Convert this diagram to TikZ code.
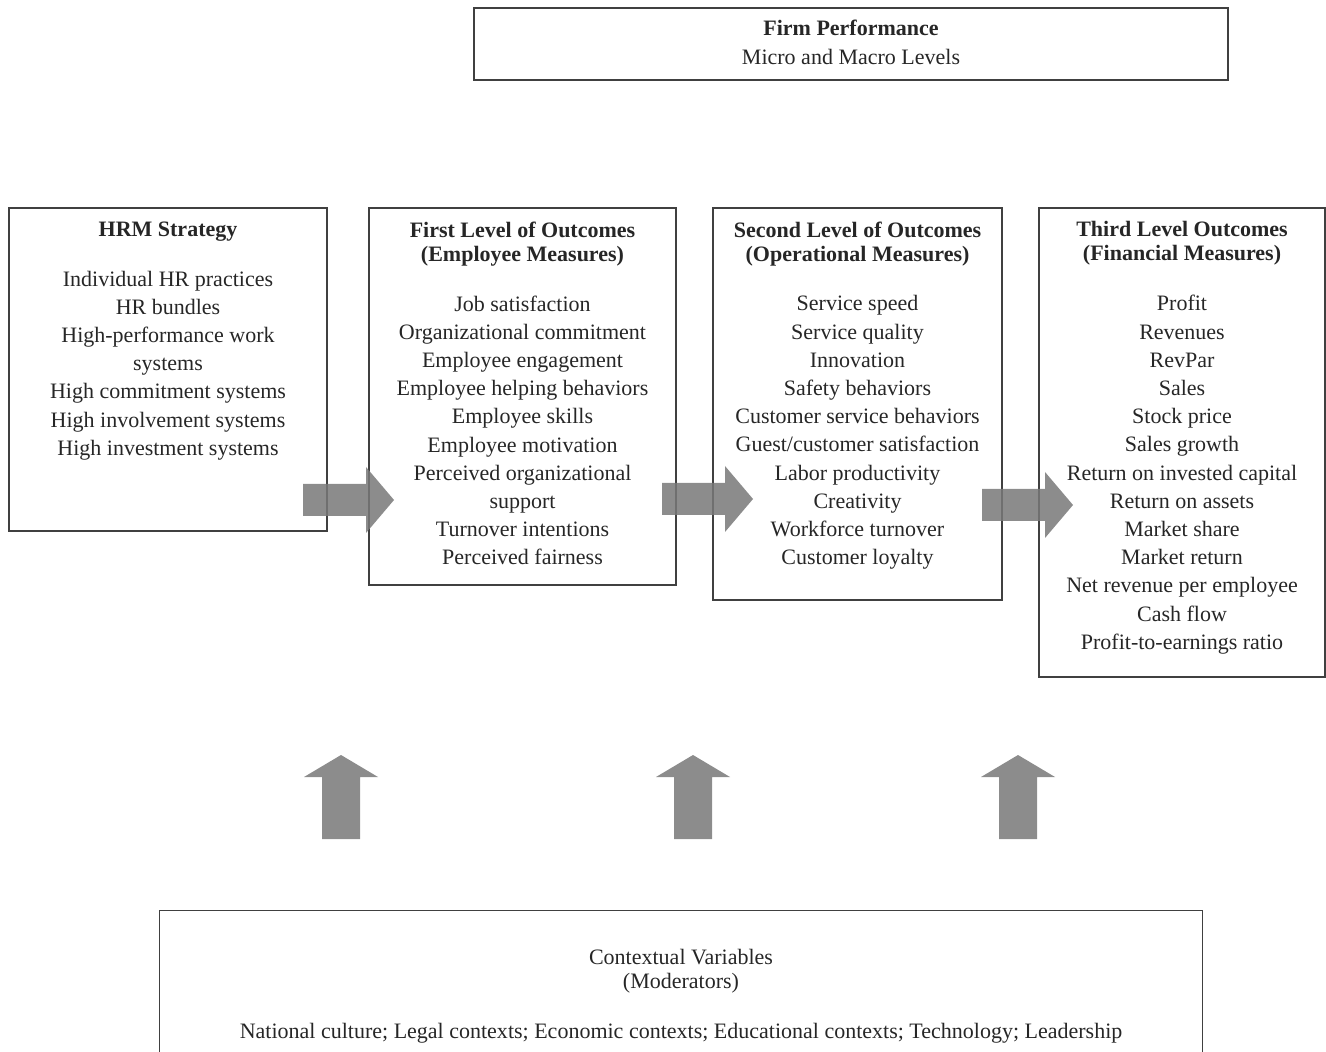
\documentclass[tikz,border=0pt]{standalone}
\usepackage{fontspec}
\setmainfont{Liberation Serif}
\usetikzlibrary{positioning, fit}

\begin{document}
\begin{tikzpicture}[x=0.5pt, y=-0.5pt,
  box/.style={rectangle, draw=black!75, line width=0.8pt, inner sep=0pt},
  boxline/.style={draw=black!75, line width=0.8pt},
  head/.style={align=center, inner sep=0pt, text=black!85,
               font=\fontsize{11}{12}\selectfont\bfseries},
  items/.style={align=center, inner sep=0pt, text=black!85,
                font=\fontsize{11}{14.1}\selectfont},
  blockarrow/.style={fill=black!53, fill opacity=0.85, draw=none}
]
\useasboundingbox (0,0) rectangle (1326,1052);

% Top: firm performance
\node[box, fit={(474,8) (1228,80)}] (firm) {};
\node[items, font=\fontsize{11}{14.5}\selectfont, below=6pt of firm.north] (firmT)
  {\textbf{Firm Performance}\\Micro and Macro Levels};

% Column 1: HRM strategy
\node[box, fit={(9,208) (327,531)}] (hrm) {};
\node[head, below=7pt of hrm.north] (hrmT) {HRM Strategy};
\node[items, below=14.5pt of hrmT] (hrmL) {Individual HR practices\\HR bundles\\
  High-performance work\\systems\\High commitment systems\\
  High involvement systems\\High investment systems};

% Column 2: first level
\node[box, fit={(369,208) (676,585)}] (emp) {};
\node[head, below=7pt of emp.north] (empT) {First Level of Outcomes\\(Employee Measures)};
\node[items, below=14.5pt of empT] (empL) {Job satisfaction\\Organizational commitment\\
  Employee engagement\\Employee helping behaviors\\Employee skills\\
  Employee motivation\\Perceived organizational\\support\\
  Turnover intentions\\Perceived fairness};

% Column 3: second level
\node[box, fit={(713,208) (1002,600)}] (ops) {};
\node[head, below=7pt of ops.north] (opsT) {Second Level of Outcomes\\(Operational Measures)};
\node[items, below=14.5pt of opsT] (opsL) {Service speed\\Service quality\\Innovation\\
  Safety behaviors\\Customer service behaviors\\Guest/customer satisfaction\\
  Labor productivity\\Creativity\\Workforce turnover\\Customer loyalty};

% Column 4: third level
\node[box, fit={(1039,208) (1325,677)}] (fin) {};
\node[head, below=7pt of fin.north] (finT) {Third Level Outcomes\\(Financial Measures)};
\node[items, below=14.5pt of finT] (finL) {Profit\\Revenues\\RevPar\\Sales\\Stock price\\
  Sales growth\\Return on invested capital\\Return on assets\\Market share\\
  Market return\\Net revenue per employee\\Cash flow\\Profit-to-earnings ratio};

% Bottom: contextual variables (open at the bottom)
\node[inner sep=0pt, fit={(160,911) (1202,1052)}] (ctx) {};
\draw[boxline] (ctx.south west) |- (ctx.north east) -- (ctx.south east);
\node[items, font=\fontsize{11}{12}\selectfont, below=19pt of ctx.north] (ctxT)
  {Contextual Variables\\(Moderators)};
\node[items, below=14.5pt of ctxT] (ctxL)
  {National culture; Legal contexts; Economic contexts; Educational contexts; Technology; Leadership};

% Block arrows between the columns
\foreach \x/\y in {303/500, 662/499, 982/505}
  \fill[blockarrow] (\x,\y) ++(0,-16) -- ++(63,0) -- ++(0,-17) -- ++(28,33)
    -- ++(-28,33) -- ++(0,-17) -- ++(-63,0) -- cycle;

% Block arrows up from the moderators
\foreach \x in {341, 693, 1018}
  \fill[blockarrow] (\x,839) ++(-19,0) -- ++(0,-62) -- ++(-18,0) -- ++(37,-22)
    -- ++(37,22) -- ++(-18,0) -- ++(0,62) -- cycle;
\end{tikzpicture}
\end{document}
